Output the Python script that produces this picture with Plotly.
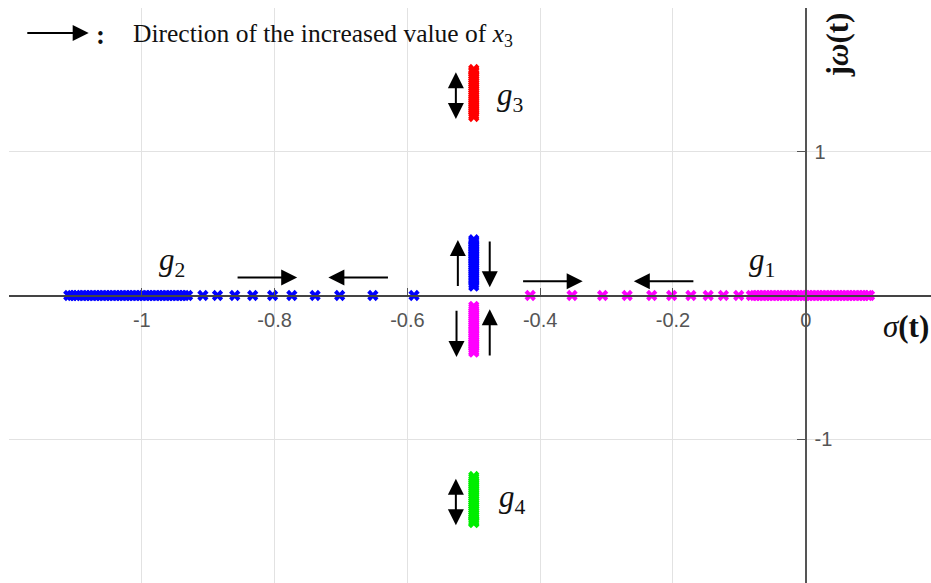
import plotly.graph_objects as go

# ---------------- data ----------------
# g2 (blue): poles on the real axis
g2_real_sigma = [-1.110, -1.105, -1.100, -1.096, -1.091, -1.086, -1.081, -1.076, -1.071,
                 -1.066, -1.061, -1.056, -1.051, -1.046, -1.041, -1.036, -1.031, -1.026,
                 -1.021, -1.016, -1.011, -1.006, -1.001, -0.996, -0.991, -0.986, -0.981,
                 -0.976, -0.971, -0.966, -0.961, -0.956, -0.951, -0.946, -0.941, -0.936,
                 -0.931, -0.908, -0.886, -0.860, -0.833, -0.803, -0.774, -0.739, -0.702,
                 -0.652, -0.590]
# g2 (blue): complex branch at sigma = -0.5
g2_col_omega = [0.065, 0.080, 0.095, 0.112, 0.128, 0.142, 0.156, 0.170, 0.184, 0.197,
                0.210, 0.222, 0.234, 0.246, 0.258, 0.270, 0.282, 0.294, 0.306, 0.318,
                0.330, 0.342, 0.354, 0.366, 0.378, 0.388]

# g1 (magenta): poles on the real axis
g1_real_sigma = [-0.415, -0.352, -0.306, -0.269, -0.232, -0.202, -0.173, -0.147, -0.124,
                 -0.101, -0.082, -0.077, -0.072, -0.067, -0.062, -0.057, -0.052, -0.047,
                 -0.042, -0.037, -0.032, -0.027, -0.022, -0.017, -0.012, -0.007, -0.002,
                 0.003, 0.008, 0.013, 0.018, 0.023, 0.028, 0.033, 0.038, 0.043, 0.048,
                 0.053, 0.058, 0.063, 0.068, 0.073, 0.078, 0.083, 0.088, 0.093, 0.096]
# g1 (magenta): complex branch at sigma = -0.5
g1_col_omega = [-0.076, -0.090, -0.104, -0.118, -0.132, -0.146, -0.160, -0.174, -0.188,
                -0.201, -0.214, -0.227, -0.240, -0.253, -0.266, -0.279, -0.292, -0.305,
                -0.318, -0.331, -0.344, -0.357, -0.370, -0.383, -0.394]

# g3 (red) and g4 (green): complex conjugate pair at sigma = -0.5
g3_omega = [1.245, 1.257, 1.271, 1.285, 1.299, 1.313, 1.327, 1.341, 1.355, 1.369, 1.383,
            1.397, 1.411, 1.425, 1.439, 1.453, 1.467, 1.481, 1.495, 1.509, 1.523, 1.537,
            1.551, 1.562, 1.572]
g4_omega = [-1.259, -1.271, -1.285, -1.299, -1.313, -1.327, -1.341, -1.355, -1.369,
            -1.383, -1.397, -1.411, -1.425, -1.439, -1.453, -1.467, -1.481, -1.495,
            -1.509, -1.523, -1.537, -1.551, -1.563, -1.572, -1.580]

col_sigma = -0.5

x_ticks = [-1.2, -1.0, -0.8, -0.6, -0.4, -0.2, 0.0]
x_tick_text = ["", "-1", "-0.8", "-0.6", "-0.4", "-0.2", "0"]
y_ticks = [-2, -1, 0, 1, 2]
y_tick_text = ["", "-1", "", "1", ""]

X_RANGE = [-1.2, 0.1886]
Y_RANGE = [-2.0, 2.0]

BLUE = "#0000ff"
MAGENTA = "#ff00ff"
RED = "#ff0000"
GREEN = "#00ee00"

# ---------------- figure ----------------
fig = go.Figure()

def pts(xs, ys, color):
    fig.add_trace(go.Scatter(x=xs, y=ys, mode="markers",
                             marker=dict(symbol="x", size=10, color=color,
                                         line=dict(width=0)),
                             showlegend=False, hoverinfo="skip"))

pts(g2_real_sigma, [0.0] * len(g2_real_sigma), BLUE)
pts([col_sigma] * len(g2_col_omega), g2_col_omega, BLUE)
pts(g1_real_sigma, [0.0] * len(g1_real_sigma), MAGENTA)
pts([col_sigma] * len(g1_col_omega), g1_col_omega, MAGENTA)
pts([col_sigma] * len(g3_omega), g3_omega, RED)
pts([col_sigma] * len(g4_omega), g4_omega, GREEN)

# arrows (tail -> tip), data coordinates
arrows = [
    # (tail_x, tail_y, tip_x, tip_y, double)
    (-1.1747, 1.826, -1.080, 1.826, False),   # legend arrow
    (-0.858, 0.125, -0.766, 0.125, False),  # g2 right
    (-0.627, 0.125, -0.719, 0.125, False),  # g2 left
    (-0.428, 0.100, -0.336, 0.100, False),  # g1 right
    (-0.167, 0.100, -0.259, 0.100, False),  # g1 left
    (-0.524, 0.056, -0.524, 0.386, False),  # blue up
    (-0.476, 0.386, -0.476, 0.058, False),  # blue down
    (-0.526, -0.095, -0.526, -0.428, False),  # magenta down
    (-0.476, -0.428, -0.476, -0.095, False),  # magenta up
    (-0.527, 1.218, -0.527, 1.553, True),   # g3 double
    (-0.527, -1.608, -0.527, -1.274, True), # g4 double
]
for tx, ty, hx, hy, dbl in arrows:
    a = dict(x=hx, y=hy, ax=tx, ay=ty, xref="x", yref="y", axref="x", ayref="y",
             text="", showarrow=True, arrowhead=2, arrowsize=1.6, arrowwidth=2,
             arrowcolor="black", standoff=0, startstandoff=0)
    if dbl:
        a.update(arrowside="end+start", startarrowhead=2, startarrowsize=1.6)
    fig.add_annotation(**a)

SERIF = "Liberation Serif, Times New Roman, serif"

def label(x, y, text, size=24, xanchor="center", angle=0):
    fig.add_annotation(x=x, y=y, xref="x", yref="y", text=text, showarrow=False,
                       xanchor=xanchor, yanchor="middle", textangle=angle,
                       font=dict(family=SERIF, size=size, color="#111"))

label(-1.062, 1.815, "<b>:</b>", size=27)
label(-1.016, 1.815, "Direction of the increased value of <i>x</i><sub>3</sub>",
      size=25.5, xanchor="left")
label(-0.955, 0.236, "<i>g</i><sub>2</sub>", size=31)
label(-0.066, 0.236, "<i>g</i><sub>1</sub>", size=31)
label(-0.446, 1.382, "<i>g</i><sub>3</sub>", size=31)
label(-0.442, -1.417, "<i>g</i><sub>4</sub>", size=31)
label(0.048, 1.745, "<b>j</b><i><b>\u03c9</b></i><b>(t)</b>", size=31, angle=-90)
label(0.1886, -0.215, "<i>\u03c3</i><b>(t)</b>", size=31, xanchor="right")

tickfont = dict(family="Liberation Sans, Arial, sans-serif", size=20, color="#555555")

fig.update_layout(
    width=931, height=583,
    margin=dict(l=9, r=0, t=8, b=0),
    plot_bgcolor="white", paper_bgcolor="white",
    xaxis=dict(range=X_RANGE, tickmode="array", tickvals=x_ticks, ticktext=x_tick_text,
               showgrid=True, gridcolor="#e2e2e2", gridwidth=1, zeroline=False,
               anchor="free", position=0.5, showline=True, linecolor="#444444",
               linewidth=1.6, ticks="inside", ticklen=7, tickwidth=1.3,
               tickcolor="#555555", tickfont=tickfont, ticklabelstandoff=7),
    yaxis=dict(range=Y_RANGE, tickmode="array", tickvals=y_ticks, ticktext=y_tick_text,
               showgrid=True, gridcolor="#e2e2e2", gridwidth=1, zeroline=False,
               side="right", anchor="free", position=1.2 / (X_RANGE[1] - X_RANGE[0]),
               showline=True, linecolor="#555555", linewidth=1.6, ticks="inside",
               ticklen=8, tickwidth=1.3, tickcolor="#555555", tickfont=tickfont,
               ticklabelstandoff=4),
)

fig.write_html("out.html")
